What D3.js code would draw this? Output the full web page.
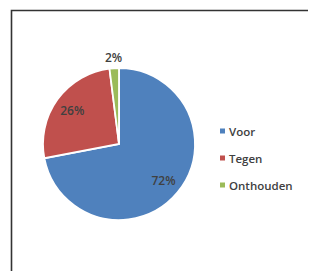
<!DOCTYPE html>
<head>
  <meta charset="utf-8">
  <script src="https://d3js.org/d3.v7.min.js"></script>
  <style>
body {
	margin:0;
	background:#fff;
	}
.lbl {
	font-family: "Open Sans", sans-serif;
	font-size: 12px;
	font-weight: 600;
	fill: #404040;
	}
.leg {
	font-family: "Open Sans", sans-serif;
	font-size: 11.5px;
	font-weight: 600;
	fill: #404040;
	}
  </style>
</head>
<body>
<div id="graph"></div>
<script>
// data
var categories = ["Voor", "Tegen", "Onthouden"];
var values = [72, 26, 2];
var colors = ["#4F81BD", "#C0504D", "#9BBB59"];

var width = 309, height = 271;
var cx = 119, cy = 144, radius = 76;

var svg = d3.select("#graph")
	.append("svg")
	.attr("width", width)
	.attr("height", height);

// frame (top and left edges visible)
svg.append("path")
	.attr("d", "M11.5,271 V10.5 H308")
	.attr("fill", "none")
	.attr("stroke", "#333")
	.attr("stroke-width", 1.6);

var pie = d3.pie().sort(null).value(function(d) { return d; });
var arcs = pie(values);
var arc = d3.arc().innerRadius(0).outerRadius(radius);

var g = svg.append("g").attr("transform", "translate(" + cx + "," + cy + ")");

g.selectAll("path.slice")
	.data(arcs)
	.enter()
	.append("path")
	.attr("class", "slice")
	.attr("d", arc)
	.attr("fill", function(d, i) { return colors[i]; })
	.attr("stroke", "#fff")
	.attr("stroke-width", 1.8);

// labels: inside for big slices, outside for the small one
var inner = d3.arc().innerRadius(radius * 0.76).outerRadius(radius * 0.76);
var outer = d3.arc().innerRadius(radius + 11).outerRadius(radius + 11);

g.selectAll("text.lbl")
	.data(arcs)
	.enter()
	.append("text")
	.attr("class", "lbl")
	.attr("text-anchor", "middle")
	.attr("dominant-baseline", "central")
	.attr("transform", function(d) {
		var p = (d.endAngle - d.startAngle) < 0.3 ? outer.centroid(d) : inner.centroid(d);
		return "translate(" + p + ")";
	})
	.text(function(d) { return d.value + "%"; });

// legend
var legY = d3.scalePoint().domain(categories).range([131, 185]);

var leg = svg.selectAll("g.legitem")
	.data(categories)
	.enter()
	.append("g")
	.attr("class", "legitem")
	.attr("transform", function(d) { return "translate(220," + legY(d) + ")"; });

leg.append("rect")
	.attr("x", 0)
	.attr("y", -2.5)
	.attr("width", 5)
	.attr("height", 5)
	.attr("fill", function(d, i) { return colors[i]; });

leg.append("text")
	.attr("class", "leg")
	.attr("x", 9)
	.attr("dominant-baseline", "central")
	.text(function(d) { return d; });
</script>
</body>
